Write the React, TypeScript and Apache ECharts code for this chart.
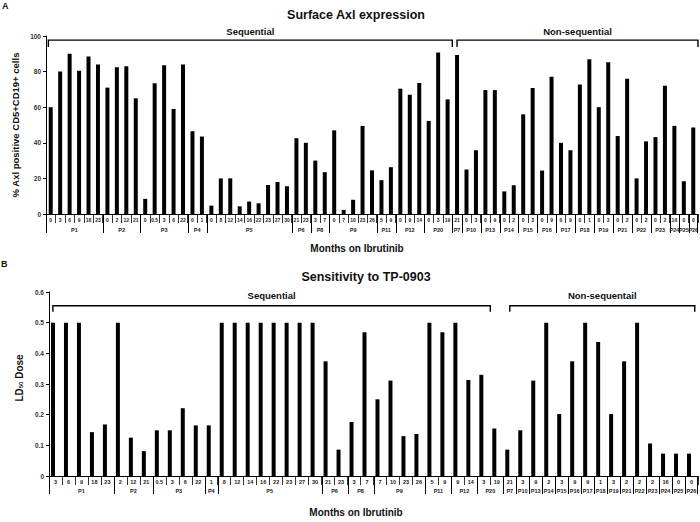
import React, { useEffect, useRef } from 'react';
import * as echarts from 'echarts';

// ---------- Panel A: Surface Axl expression ----------
const axlMonths = [
  '0', '3', '6', '9', '18', '23',
  '0', '2', '12', '21',
  '0', '0.5', '3', '6', '22',
  '0', '1',
  '0', '8', '12', '14', '16', '22', '23', '27', '30',
  '21', '23',
  '3', '7',
  '0', '7', '10', '23', '26',
  '5', '9',
  '0', '9', '14',
  '0', '3', '19',
  '21',
  '0', '3',
  '0', '9',
  '0', '2',
  '0', '3',
  '0', '9',
  '0', '9',
  '0', '1',
  '0', '3',
  '0', '2',
  '0', '2',
  '0', '2',
  '16',
  '0',
  '0',
];
const axlPatients = [
  'P1', 'P1', 'P1', 'P1', 'P1', 'P1',
  'P2', 'P2', 'P2', 'P2',
  'P3', 'P3', 'P3', 'P3', 'P3',
  'P4', 'P4',
  'P5', 'P5', 'P5', 'P5', 'P5', 'P5', 'P5', 'P5', 'P5',
  'P6', 'P6',
  'P8', 'P8',
  'P9', 'P9', 'P9', 'P9', 'P9',
  'P11', 'P11',
  'P12', 'P12', 'P12',
  'P20', 'P20', 'P20',
  'P7',
  'P10', 'P10',
  'P13', 'P13',
  'P14', 'P14',
  'P15', 'P15',
  'P16', 'P16',
  'P17', 'P17',
  'P18', 'P18',
  'P19', 'P19',
  'P21', 'P21',
  'P22', 'P22',
  'P23', 'P23',
  'P24',
  'P25',
  'P26',
];
const axlValues = [
  60, 80, 90, 80.5, 88.5, 84,
  71, 82.5, 83, 65,
  8.5, 73.5, 83.5, 59, 84,
  46.5, 43.5,
  4.7, 20, 20, 4.3, 7, 6, 16.3, 18, 15.6,
  42.6, 40,
  30, 23.5,
  47, 2.3, 8, 49.5, 24.5,
  19, 26.3,
  70.4, 67, 73.6,
  52.3, 90.7, 64.4,
  89.3,
  25, 35.8,
  69.6, 69.6,
  12.7, 16.2,
  56, 70.8,
  24.4, 77.1,
  40, 35.8,
  72.8, 87,
  60, 85.3,
  43.8, 76,
  20, 40.8,
  43.2, 72.1,
  49.5,
  18.4,
  48.6,
];
const axlCohorts = [
  { name: 'Sequential', first: 'P1', last: 'P20' },
  { name: 'Non-sequential', first: 'P7', last: 'P26' },
];
const axlTicks = [0, 20, 40, 60, 80, 100];

// ---------- Panel B: Sensitivity to TP-0903 ----------
const ldMonths = [
  '3', '6', '9', '18', '23',
  '2', '12', '21',
  '0.5', '3', '6', '22',
  '1',
  '8', '12', '14', '16', '22', '23', '27', '30',
  '21', '23',
  '3', '7',
  '7', '10', '23', '26',
  '5', '9',
  '9', '14',
  '3', '19',
  '21', '3', '9', '2', '3', '9', '9', '1', '3', '2', '2', '2', '16', '0', '0',
];
const ldPatients = [
  'P1', 'P1', 'P1', 'P1', 'P1',
  'P2', 'P2', 'P2',
  'P3', 'P3', 'P3', 'P3',
  'P4',
  'P5', 'P5', 'P5', 'P5', 'P5', 'P5', 'P5', 'P5',
  'P6', 'P6',
  'P8', 'P8',
  'P9', 'P9', 'P9', 'P9',
  'P11', 'P11',
  'P12', 'P12',
  'P20', 'P20',
  'P7', 'P10', 'P13', 'P14', 'P15', 'P16', 'P17', 'P18', 'P19', 'P21', 'P22', 'P23', 'P24', 'P25', 'P26',
];
const ldValues = [
  0.5, 0.5, 0.5, 0.143, 0.168,
  0.5, 0.125, 0.081,
  0.149, 0.149, 0.221, 0.165,
  0.165,
  0.5, 0.5, 0.5, 0.5, 0.5, 0.5, 0.5, 0.5,
  0.374, 0.086,
  0.176, 0.469,
  0.25, 0.311, 0.13, 0.137,
  0.5, 0.469,
  0.5, 0.313,
  0.33, 0.155,
  0.086, 0.149, 0.311, 0.5, 0.202, 0.374, 0.5, 0.437, 0.202, 0.374, 0.5, 0.106, 0.073, 0.073, 0.073,
];
const ldCohorts = [
  { name: 'Sequential', first: 'P1', last: 'P20' },
  { name: 'Non-sequentail', first: 'P7', last: 'P26' },
];
const ldTicks = [0, 0.1, 0.2, 0.3, 0.4, 0.5, 0.6];

// ---------- helpers ----------
const FONT = 'Liberation Sans, Arial, Helvetica, sans-serif';

type Run = { name: string; start: number; end: number };

function runsOf(patients: string[]): Run[] {
  const out: Run[] = [];
  patients.forEach((p, i) => {
    const last = out[out.length - 1];
    if (last && last.name === p) last.end = i;
    else out.push({ name: p, start: i, end: i });
  });
  return out;
}

function cohortRuns(patients: string[], cohorts: { name: string; first: string; last: string }[]): Run[] {
  return cohorts.map((c) => ({
    name: c.name,
    start: patients.indexOf(c.first),
    end: patients.lastIndexOf(c.last),
  }));
}

function groupRowSeries(xi: number, groups: Run[], st: { sepLen: number; labelDy: number; fontSize: number }) {
  return {
    type: 'custom',
    xAxisIndex: xi,
    yAxisIndex: xi,
    silent: true,
    clip: false,
    z: 10,
    data: groups.map((g) => [g.start, 0]),
    renderItem: (params: any, api: any) => {
      const g = groups[params.dataIndex];
      const band = api.size([1, 0])[0];
      const p0 = api.coord([g.start, 0]);
      const p1 = api.coord([g.end, 0]);
      const xl = Math.round(p0[0] - band / 2) + 0.5;
      const xr = Math.round(p1[0] + band / 2) + 0.5;
      const y0 = p0[1];
      const children: any[] = [
        {
          type: 'line',
          shape: { x1: xl, y1: y0, x2: xl, y2: y0 + st.sepLen },
          style: { stroke: '#000', lineWidth: 1 },
        },
        {
          type: 'text',
          style: {
            text: g.name,
            x: (p0[0] + p1[0]) / 2,
            y: y0 + st.labelDy,
            textAlign: 'center',
            textVerticalAlign: 'middle',
            fill: '#222',
            font: `bold ${st.fontSize}px ${FONT}`,
          },
        },
      ];
      if (params.dataIndex === groups.length - 1) {
        children.push({
          type: 'line',
          shape: { x1: xr - 1, y1: y0, x2: xr - 1, y2: y0 + st.sepLen },
          style: { stroke: '#000', lineWidth: 1 },
        });
      }
      return { type: 'group', children };
    },
  };
}

function bracketSeries(
  xi: number,
  cohorts: Run[],
  st: { level: number; leg: number; labelDy: number; padL: number[]; padR: number[] }
) {
  return {
    type: 'custom',
    xAxisIndex: xi,
    yAxisIndex: xi,
    silent: true,
    clip: false,
    z: 10,
    data: cohorts.map((c) => [c.start, st.level]),
    renderItem: (params: any, api: any) => {
      const c = cohorts[params.dataIndex];
      const band = api.size([1, 0])[0];
      const p0 = api.coord([c.start, st.level]);
      const p1 = api.coord([c.end, st.level]);
      const xl = p0[0] + st.padL[params.dataIndex] * band;
      const xr = p1[0] + st.padR[params.dataIndex] * band;
      const y = p0[1];
      return {
        type: 'group',
        children: [
          {
            type: 'polyline',
            shape: { points: [[xl, y + st.leg], [xl, y], [xr, y], [xr, y + st.leg]] },
            style: { stroke: '#000', lineWidth: 1.4, fill: null },
          },
          {
            type: 'text',
            style: {
              text: c.name,
              x: (xl + xr) / 2,
              y: y + st.labelDy,
              textAlign: 'center',
              textVerticalAlign: 'middle',
              fill: '#111',
              font: `bold 9.5px ${FONT}`,
            },
          },
        ],
      };
    },
  };
}

function categoryAxis(grid: number, data: string[], fontSize: number) {
  return {
    type: 'category',
    gridIndex: grid,
    data,
    boundaryGap: true,
    axisLine: { show: true, lineStyle: { color: '#000', width: 1 } },
    axisTick: { show: true, interval: 0, length: 9, lineStyle: { color: '#000', width: 0.8 } },
    axisLabel: {
      interval: 0,
      fontSize,
      fontWeight: 'bold',
      color: '#222',
      margin: 3,
      fontFamily: FONT,
    },
    splitLine: { show: false },
  };
}

function valueAxis(grid: number, ticks: number[]) {
  return {
    type: 'value',
    gridIndex: grid,
    min: ticks[0],
    max: ticks[ticks.length - 1],
    interval: ticks[1] - ticks[0],
    axisLine: { show: true, lineStyle: { color: '#000', width: 1 } },
    axisTick: { show: true, length: 3, lineStyle: { color: '#000' } },
    axisLabel: { fontSize: 6.5, fontWeight: 'bold', color: '#333', margin: 5, fontFamily: FONT },
    splitLine: { show: false },
  };
}

export default function App() {
  const ref = useRef<HTMLDivElement>(null);

  useEffect(() => {
    if (!ref.current) return;
    const chart = echarts.init(ref.current, undefined, { renderer: 'svg' });

    const axlGroups = runsOf(axlPatients);
    const ldGroups = runsOf(ldPatients);
    const axlCoh = cohortRuns(axlPatients, axlCohorts);
    const ldCoh = cohortRuns(ldPatients, ldCohorts);

    const txt = (text: string, x: number, y: number, size: number, align = 'center', extra: any = {}) => ({
      type: 'text',
      x,
      y,
      silent: true,
      ...extra,
      style: {
        text,
        fill: '#111',
        font: `bold ${size}px ${FONT}`,
        textAlign: align,
        textVerticalAlign: 'middle',
        ...(extra.style || {}),
      },
    });

    const option: any = {
      animation: false,
      backgroundColor: '#fff',
      grid: [
        { left: 46, top: 36, width: 652, height: 178, containLabel: false },
        { left: 49, top: 292, width: 649, height: 184, containLabel: false },
      ],
      xAxis: [categoryAxis(0, axlMonths, 5), categoryAxis(1, ldMonths, 5.5)],
      yAxis: [valueAxis(0, axlTicks), valueAxis(1, ldTicks)],
      series: [
        {
          type: 'bar',
          xAxisIndex: 0,
          yAxisIndex: 0,
          data: axlValues,
          barWidth: 4,
          itemStyle: { color: '#000' },
          silent: true,
        },
        {
          type: 'bar',
          xAxisIndex: 1,
          yAxisIndex: 1,
          data: ldValues,
          barWidth: 4,
          barGap: '25%',
          itemStyle: { color: '#000' },
          silent: true,
        },
        {
          type: 'bar',
          xAxisIndex: 1,
          yAxisIndex: 1,
          data: ldValues.map(() => null),
          barWidth: 4,
          barGap: '25%',
          itemStyle: { color: '#000' },
          silent: true,
        },
        groupRowSeries(0, axlGroups, { sepLen: 19, labelDy: 16, fontSize: 5.5 }),
        groupRowSeries(1, ldGroups, { sepLen: 18, labelDy: 15, fontSize: 5.5 }),
        bracketSeries(0, axlCoh, { level: 97.7, leg: 7, labelDy: -9, padL: [-0.25, 0], padR: [0.5, 0.5] }),
        bracketSeries(1, ldCoh, { level: 0.555, leg: 6, labelDy: -10, padL: [-0.2, 0], padR: [-0.5, 0.25] }),
      ],
      graphic: [
        txt('A', 2, 6, 9, 'left'),
        txt('Surface Axl expression', 356, 15, 12.5),
        txt('Months on Ibrutinib', 357, 248, 10),
        txt('% Axl positive CD5+CD19+ cells', 15, 125, 9.5, 'center', { rotation: Math.PI / 2 }),
        txt('B', 1, 264, 9, 'left'),
        txt('Sensitivity to TP-0903', 366, 277, 12.5),
        txt('Months on Ibrutinib', 356, 512, 10),
        {
          type: 'text',
          x: 19,
          y: 378,
          rotation: Math.PI / 2,
          silent: true,
          style: {
            text: 'LD{sub|50} Dose',
            fill: '#111',
            font: `bold 10px ${FONT}`,
            textAlign: 'center',
            textVerticalAlign: 'middle',
            rich: {
              sub: { fontSize: 6, fontWeight: 'bold', fontFamily: FONT, verticalAlign: 'bottom', padding: [4, 0, 0, 0], fill: '#111' },
            },
          },
        },
      ],
    };

    chart.setOption(option);
    return () => chart.dispose();
  }, []);

  return (
    <div
      ref={ref}
      style={{ position: 'absolute', left: 0, top: 0, width: 700, height: 522, background: '#fff' }}
    />
  );
}
